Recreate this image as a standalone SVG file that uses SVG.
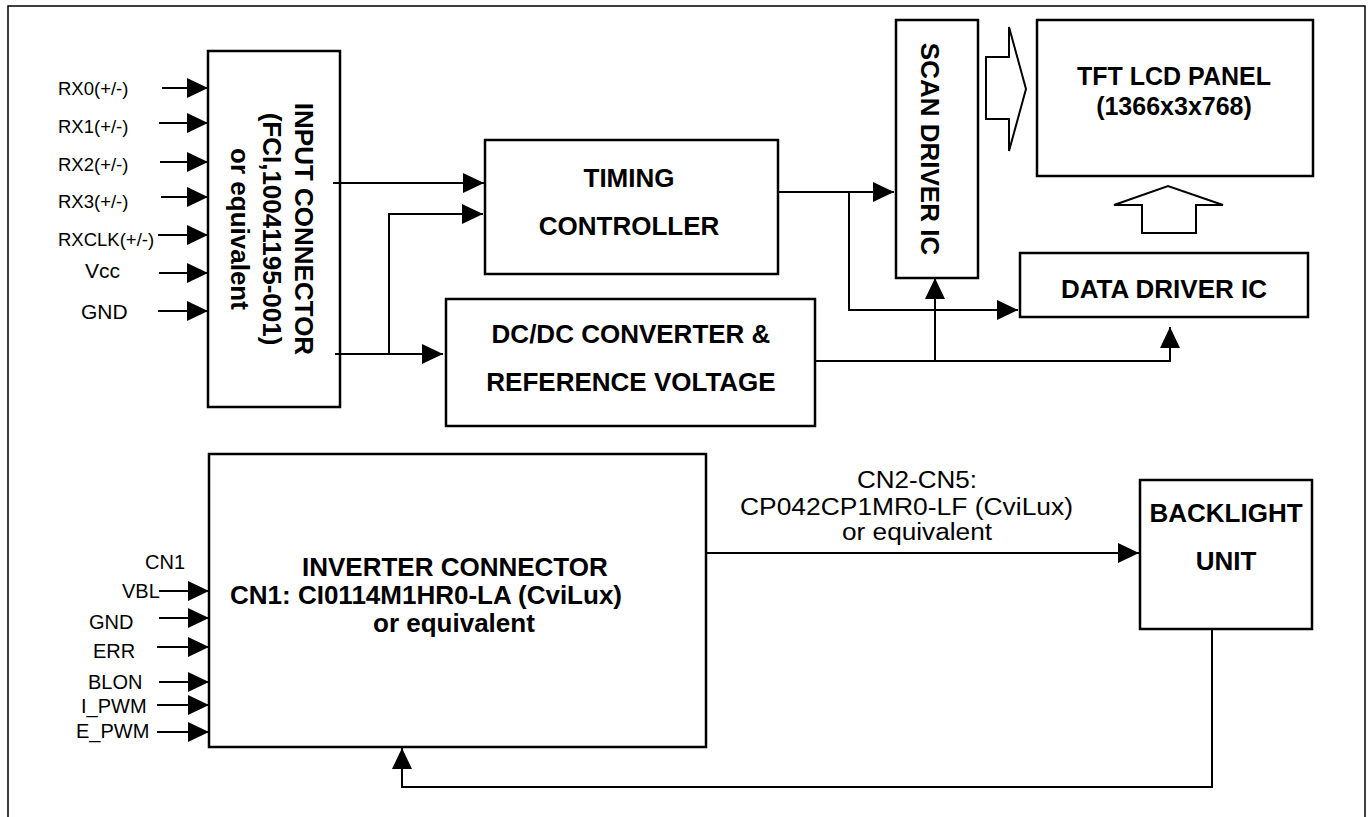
<svg xmlns="http://www.w3.org/2000/svg" width="1372" height="817" viewBox="0 0 1372 817">
<defs>
<marker id="ah" markerUnits="userSpaceOnUse" markerWidth="22" markerHeight="20" refX="21" refY="10" orient="auto">
<path d="M0,0 L21,10 L0,20 z" fill="#000"/>
</marker>
<style>
.box{fill:#fff;stroke:#000;stroke-width:2.5}
.ln{fill:none;stroke:#000;stroke-width:2}
.arr{fill:none;stroke:#000;stroke-width:2;marker-end:url(#ah)}
.b{font-family:"Liberation Sans",Arial,sans-serif;font-weight:bold;font-size:26px;fill:#000}
.r{font-family:"Liberation Sans",Arial,sans-serif;font-size:18.5px;fill:#000}
.r2{font-family:"Liberation Sans",Arial,sans-serif;font-size:20px;fill:#000}
.r3{font-family:"Liberation Sans",Arial,sans-serif;font-size:23px;fill:#000}
.hol{fill:#fff;stroke:#000;stroke-width:2}
</style>
</defs>
<rect x="8" y="6" width="1357" height="830" fill="#fff" stroke="#000" stroke-width="1.5"/>

<g id="input-connector">
<rect class="box" x="208" y="51" width="132" height="356"/>
<text class="b" text-anchor="middle" transform="translate(295,229) rotate(90)">INPUT CONNECTOR</text>
<text class="b" text-anchor="middle" transform="translate(263,229) rotate(90)">(FCI,10041195-001)</text>
<text class="b" text-anchor="middle" transform="translate(231,229) rotate(90)">or equivalent</text>
</g>
<g id="input-labels">
<text class="r" x="58" y="95">RX0(+/-)</text>
<text class="r" x="58" y="133">RX1(+/-)</text>
<text class="r" x="58" y="171">RX2(+/-)</text>
<text class="r" x="58" y="208">RX3(+/-)</text>
<text class="r" x="58" y="246">RXCLK(+/-)</text>
<text class="r2" x="85" y="278" style="font-size:21px">Vcc</text>
<text class="r2" x="81" y="319" style="font-size:21px">GND</text>
</g>
<g id="timing-controller">
<rect class="box" x="485" y="140" width="293" height="134"/>
<text class="b" x="629" y="187" text-anchor="middle">TIMING</text>
<text class="b" x="629" y="235" text-anchor="middle">CONTROLLER</text>
</g>
<g id="dcdc">
<rect class="box" x="446" y="299" width="369" height="127"/>
<text class="b" x="631" y="343" text-anchor="middle">DC/DC CONVERTER &amp;</text>
<text class="b" x="631" y="391" text-anchor="middle">REFERENCE VOLTAGE</text>
</g>
<g id="scan-driver">
<rect class="box" x="896" y="20" width="82" height="258"/>
<text class="b" text-anchor="middle" transform="translate(921,149) rotate(90)">SCAN DRIVER IC</text>
</g>
<g id="tft-panel">
<rect class="box" x="1037" y="20" width="276" height="156"/>
<text class="b" x="1174" y="85" text-anchor="middle" style="font-size:25px">TFT LCD PANEL</text>
<text class="b" x="1174" y="115" text-anchor="middle" style="font-size:25px">(1366x3x768)</text>
</g>
<g id="data-driver">
<rect class="box" x="1020" y="253" width="288" height="64"/>
<text class="b" x="1164" y="298" text-anchor="middle">DATA DRIVER IC</text>
</g>
<g id="inverter">
<rect class="box" x="209" y="454" width="497" height="293"/>
<text class="b" x="302" y="576">INVERTER CONNECTOR</text>
<text class="b" x="230" y="604">CN1: CI0114M1HR0-LA (CviLux)</text>
<text class="b" x="373" y="632">or equivalent</text>
</g>
<g id="inverter-labels">
<text class="r2" x="145" y="569">CN1</text>
<text class="r2" x="122" y="598">VBL</text>
<text class="r2" x="89" y="629">GND</text>
<text class="r2" x="93" y="658">ERR</text>
<text class="r2" x="88" y="689">BLON</text>
<text class="r2" x="81" y="713">I_PWM</text>
<text class="r2" x="76" y="738">E_PWM</text>
</g>
<g id="backlight">
<rect class="box" x="1140" y="480" width="172" height="149"/>
<text class="b" x="1226" y="522" text-anchor="middle">BACKLIGHT</text>
<text class="b" x="1226" y="570" text-anchor="middle">UNIT</text>
</g>
<g id="cn-label">
<text class="r3" x="857" y="488" textLength="120" lengthAdjust="spacingAndGlyphs">CN2-CN5:</text>
<text class="r3" x="740" y="515" textLength="333" lengthAdjust="spacingAndGlyphs">CP042CP1MR0-LF (CviLux)</text>
<text class="r3" x="842" y="540" textLength="150" lengthAdjust="spacingAndGlyphs">or equivalent</text>
</g>

<g id="connectors">
<line class="arr" x1="162" y1="88" x2="208" y2="88"/>
<line class="arr" x1="159" y1="123" x2="208" y2="123"/>
<line class="arr" x1="160" y1="162" x2="208" y2="162"/>
<line class="arr" x1="161" y1="197" x2="208" y2="197"/>
<line class="arr" x1="158" y1="235" x2="208" y2="235"/>
<line class="arr" x1="159" y1="273" x2="208" y2="273"/>
<line class="arr" x1="158" y1="311" x2="208" y2="311"/>

<line class="arr" x1="159" y1="591" x2="209" y2="591"/>
<line class="arr" x1="159" y1="618" x2="209" y2="618"/>
<line class="arr" x1="157" y1="647" x2="209" y2="647"/>
<line class="arr" x1="159" y1="682" x2="209" y2="682"/>
<line class="arr" x1="157" y1="705" x2="209" y2="705"/>
<line class="arr" x1="157" y1="732" x2="209" y2="732"/>

<line class="arr" x1="333" y1="183" x2="484" y2="183"/>
<polyline class="arr" points="389,354 389,214 483,214"/>
<line class="arr" x1="335" y1="354" x2="443" y2="354"/>

<line class="arr" x1="778" y1="192" x2="894" y2="192"/>
<polyline class="arr" points="849,192 849,310 1018,310"/>

<polyline class="arr" points="815,361 1170,361 1170,327"/>
<polyline class="arr" points="935,361 935,278"/>

<line class="arr" x1="707" y1="553" x2="1139" y2="553"/>
<polyline class="arr" points="1212,629 1212,787 402,787 402,748"/>

<polygon class="hol" points="986,57 1009,57 1009,27 1026,89 1009,151 1009,119 986,119"/>
<polygon class="hol" points="1142,233 1142,205 1114,205 1168,186 1223,205 1196,205 1196,233"/>
</g>
</svg>
